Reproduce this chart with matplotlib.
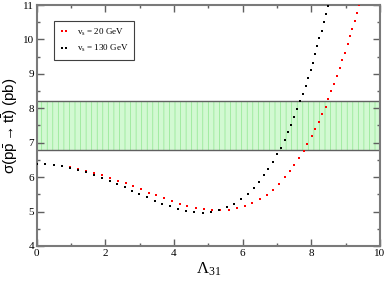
import matplotlib
matplotlib.use('Agg')
import matplotlib.pyplot as plt
from matplotlib.ticker import MultipleLocator

plt.rcParams['font.family'] = ['Liberation Serif', 'DejaVu Serif']
plt.rcParams['mathtext.fontset'] = 'custom'
plt.rcParams['mathtext.rm'] = 'Liberation Serif'
plt.rcParams['mathtext.it'] = 'Liberation Serif:italic'
plt.rcParams['mathtext.sf'] = 'Liberation Sans'
plt.rcParams['hatch.linewidth'] = 0.5

# experimental band (pb)
band_lo = 6.8
band_hi = 8.22

# v_s = 130 GeV (black)
lam_130 = [0.00, 0.25, 0.50, 0.74, 0.97, 1.21, 1.44, 1.66, 1.90, 2.12, 2.34, 2.56,
           2.77, 2.99, 3.22, 3.44, 3.66, 3.89, 4.12, 4.36, 4.59, 4.83, 5.07, 5.31,
           5.54, 5.75, 5.95, 6.16, 6.32, 6.47, 6.62, 6.75, 6.88, 7.00, 7.11, 7.22,
           7.32, 7.41, 7.50, 7.59, 7.68, 7.76, 7.84, 7.91, 7.98, 8.05, 8.11, 8.18,
           8.24, 8.30, 8.36, 8.42, 8.49]
sig_130 = [6.39, 6.37, 6.35, 6.32, 6.27, 6.21, 6.15, 6.06, 5.97, 5.88, 5.80, 5.70,
           5.60, 5.51, 5.41, 5.31, 5.22, 5.15, 5.08, 5.02, 4.98, 4.97, 4.99, 5.04,
           5.12, 5.21, 5.35, 5.50, 5.67, 5.85, 6.05, 6.24, 6.44, 6.66, 6.86, 7.08,
           7.30, 7.52, 7.74, 7.97, 8.20, 8.41, 8.65, 8.87, 9.10, 9.33, 9.57, 9.80,
           10.03, 10.26, 10.50, 10.73, 10.97]

# v_s = 20 GeV (red)
lam_20 = [0.00, 0.25, 0.50, 0.74, 0.97, 1.21, 1.44, 1.68, 1.90, 2.13, 2.36, 2.59,
          2.81, 3.03, 3.26, 3.48, 3.70, 3.94, 4.17, 4.39, 4.64, 4.88, 5.11, 5.35,
          5.60, 5.83, 6.06, 6.28, 6.50, 6.71, 6.89, 7.06, 7.22, 7.38, 7.51, 7.65,
          7.78, 7.89, 8.01, 8.12, 8.22, 8.32, 8.42, 8.50, 8.59, 8.67, 8.76, 8.84,
          8.90, 8.98, 9.06, 9.13, 9.20, 9.27, 9.34, 9.38]
sig_20 = [6.39, 6.37, 6.35, 6.32, 6.28, 6.23, 6.18, 6.12, 6.05, 5.97, 5.89, 5.82,
          5.73, 5.64, 5.55, 5.47, 5.38, 5.30, 5.22, 5.17, 5.11, 5.07, 5.04, 5.04,
          5.04, 5.09, 5.16, 5.24, 5.35, 5.48, 5.63, 5.81, 5.99, 6.17, 6.36, 6.55,
          6.76, 6.97, 7.18, 7.40, 7.61, 7.82, 8.04, 8.27, 8.49, 8.71, 8.94, 9.17,
          9.39, 9.62, 9.86, 10.09, 10.31, 10.54, 10.78, 11.00]

fig = plt.figure(figsize=(3.88, 2.82), dpi=100)
ax = fig.add_axes([0.095, 0.128, 0.884, 0.854])

ax.axhspan(band_lo, band_hi, facecolor='#d2f9d2', edgecolor='#8fe68f',
           hatch='|||', linewidth=0, zorder=1)
ax.axhline(band_lo, color='#606060', lw=1.0, zorder=2)
ax.axhline(band_hi, color='#606060', lw=1.0, zorder=2)

ax.plot(lam_20, sig_20, 's', color='red', ms=2.1, mew=0,
        label=r'v$_{\rm s}$ = 20 GeV', zorder=3)
ax.plot(lam_130, sig_130, 's', color='black', ms=2.1, mew=0,
        label=r'v$_{\rm s}$ = 130 GeV', zorder=4)

ax.set_xlim(0, 10)
ax.set_ylim(4, 11)
ax.xaxis.set_major_locator(MultipleLocator(2))
ax.xaxis.set_minor_locator(MultipleLocator(1))
ax.yaxis.set_major_locator(MultipleLocator(1))
ax.yaxis.set_minor_locator(MultipleLocator(0.5))
ax.tick_params(which='both', direction='in', top=True, right=True,
               labelsize=8, color='#606060', pad=2)
ax.tick_params(which='major', length=5, width=1)
ax.tick_params(which='minor', length=2.5, width=1)
for s in ax.spines.values():
    s.set_color('#7a7a7a')
    s.set_linewidth(1.5)

ax.set_xlabel(r'$\Lambda_{31}$', fontsize=12, labelpad=2)
ax.set_ylabel(r'$\mathsf{\sigma(p\bar{p}\rightarrow t\bar{t})\ (pb)}$',
              fontsize=11, labelpad=2)

leg = ax.legend(loc='upper left', bbox_to_anchor=(0.05, 0.934), borderaxespad=0,
                numpoints=2, fontsize=6.5, fancybox=False, framealpha=1,
                edgecolor='#404040', handlelength=1.0, handletextpad=1.0,
                borderpad=0.6, labelspacing=0.6, markerscale=1.0)
leg.get_frame().set_linewidth(0.8)

fig.savefig('out.png', dpi=100)
